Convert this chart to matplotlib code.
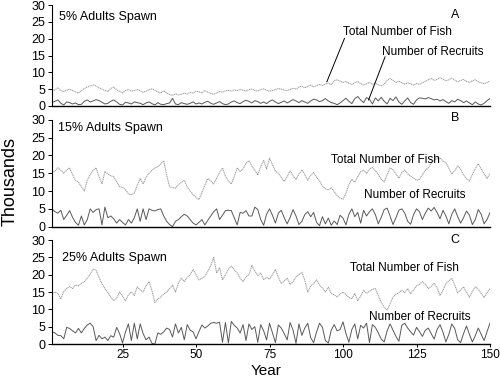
import numpy as np
import matplotlib
matplotlib.use("Agg")
import matplotlib.pyplot as plt

plt.rcParams['font.family'] = ['Liberation Sans', 'DejaVu Sans']

years = np.arange(1, 151)

# Panel A - 5% adults spawn (thousands)
total_a = [4.5, 4.8, 5.4, 4.6, 4.3, 4.7, 5.0, 4.6, 4.2, 3.8,
           4.6, 5.2, 5.6, 6.0, 6.3, 5.9, 5.4, 5.0, 4.6, 4.3,
           5.2, 5.6, 4.8, 4.3, 3.9, 4.6, 4.9, 4.4, 4.6, 4.9,
           4.5, 4.1, 4.4, 4.8, 5.1, 4.7, 4.2, 3.8, 4.5, 3.9,
           3.4, 3.2, 3.6, 3.3, 3.5, 3.8, 3.6, 4.0, 3.9, 4.4,
           4.2, 3.9, 4.6, 4.1, 3.7, 3.5, 3.9, 4.3, 4.1, 4.5,
           4.7, 4.4, 4.8, 4.6, 4.9, 4.7, 4.4, 4.9, 5.0, 4.6,
           4.4, 4.9, 5.1, 4.7, 4.4, 4.6, 4.9, 5.2, 5.0, 4.7,
           4.6, 4.9, 5.3, 5.0, 5.6, 5.9, 5.4, 5.8, 6.2, 5.7,
           6.0, 6.4, 6.1, 6.5, 6.8, 6.3, 7.5, 7.8, 7.4, 7.0,
           7.3, 6.8, 6.4, 6.9, 7.3, 6.7, 6.2, 6.6, 7.0, 6.4,
           6.8, 6.3, 6.0, 6.5, 7.6, 8.2, 7.6, 7.0, 7.4, 6.9,
           6.5, 6.9, 6.6, 6.2, 6.7, 6.4, 6.9, 7.3, 7.8, 8.2,
           7.6, 7.9, 8.4, 8.0, 7.5, 7.8, 8.3, 7.7, 7.2, 7.6,
           7.9, 7.3, 7.0, 7.5, 7.8, 7.2, 6.9, 6.6, 7.0, 7.4]
recruits_a = [1.0, 1.4, 1.8, 0.8, 0.3, 1.2, 1.0, 0.6, 0.9, 0.4,
              0.5, 1.4, 1.8, 1.2, 1.5, 1.9, 1.6, 1.1, 0.6, 0.8,
              1.4, 1.8, 1.2, 0.5, 0.3, 1.1, 0.9, 0.6, 1.2, 1.0,
              0.8, 0.4, 0.9, 1.2, 0.7, 0.3, 1.0, 0.5, 0.4, 0.7,
              0.9, 2.3, 0.6, 0.4, 1.0, 0.7, 0.5, 0.8, 1.2, 0.6,
              0.9, 0.6, 1.1, 1.4, 0.8, 0.5, 0.9, 1.3, 0.7, 0.4,
              0.6, 1.2, 1.5, 1.0, 0.7, 1.3, 1.7, 1.4, 0.9, 1.6,
              1.3, 0.8, 1.2, 0.7, 1.4, 1.8, 1.2, 0.7, 1.1, 1.5,
              0.9, 1.4, 1.9, 1.5, 1.0, 1.6, 1.2, 0.8, 1.5, 2.0,
              1.8, 1.3, 1.6, 2.2, 1.5, 1.0, 0.8, 0.4, 0.9, 1.6,
              2.3, 1.4, 0.7, 2.2, 2.8, 1.8, 1.0, 2.5, 2.0, 0.6,
              2.4, 1.5, 2.6, 1.4, 0.6, 2.3, 1.6, 2.7, 1.2, 0.5,
              1.5, 2.4, 1.0, 0.5, 1.8, 2.4, 2.3, 2.1, 2.5, 2.2,
              1.8, 2.0, 1.5, 1.9, 1.3, 0.8, 1.6, 1.2, 2.0, 1.6,
              1.0, 1.5, 0.9, 0.4, 1.2, 0.6, 0.3, 0.8, 1.6, 2.2]

# Panel B - 15% adults spawn
total_b = [15.0, 15.6, 16.5, 15.8, 15.0, 15.9, 16.5, 14.6, 13.0, 12.5,
           11.2, 10.0, 13.0, 14.6, 15.8, 16.5, 14.0, 12.0, 15.5, 14.8,
           14.3, 14.0, 12.6, 11.2, 11.0, 10.4, 9.2, 9.0, 9.4, 11.6,
           13.5, 12.0, 13.8, 15.0, 15.8, 16.5, 16.8, 17.6, 18.5, 14.5,
           11.2, 11.0, 10.8, 11.8, 12.4, 13.0, 11.2, 10.0, 9.0, 8.2,
           7.6, 9.5, 11.6, 13.5, 12.8, 12.0, 13.6, 15.2, 16.5, 14.2,
           12.8, 12.0, 14.0, 16.5, 15.5, 16.2, 17.8, 18.5, 17.0, 15.8,
           14.5, 16.8, 18.6, 16.2, 19.2, 17.4, 15.6, 15.0, 13.8, 12.7,
           14.1, 15.6, 14.3, 13.2, 14.8, 15.9, 14.6, 13.0, 14.4, 15.2,
           13.8, 12.9, 11.4, 10.6, 10.3, 11.0, 9.8, 8.7, 8.0, 7.7,
           9.4, 11.8, 13.3, 12.5, 14.0, 15.4, 15.9, 14.9, 16.2, 16.6,
           15.7, 14.6, 13.3, 12.5, 14.6, 16.5, 16.0, 14.8, 13.6, 15.2,
           15.9, 14.8, 14.2, 13.6, 13.0, 13.3, 14.6, 15.8, 16.5, 17.8,
           18.6, 19.1, 19.3, 18.4, 18.0, 16.4, 14.8, 15.7, 17.0, 16.2,
           14.5, 13.4, 12.8, 14.6, 16.3, 17.7, 16.2, 14.8, 13.5, 15.0]
recruits_b = [5.0, 4.2, 3.8, 4.6, 2.0, 3.2, 4.5, 2.6, 1.2, 0.4,
              3.0, 0.5, 2.0, 5.0, 4.0, 4.8, 5.0, 0.5, 5.5, 2.5,
              3.0, 2.2, 1.0, 2.0, 1.2, 0.5, 2.0, 1.0, 2.5, 5.0,
              1.5, 5.0, 2.0, 5.0, 4.6, 4.4, 4.8, 5.0, 3.0, 1.5,
              0.6, 0.0, 1.5, 2.0, 2.8, 3.5, 3.0, 2.0, 1.0, 0.5,
              1.2, 2.0, 0.5, 1.8, 3.0, 4.2, 5.0, 2.0, 3.2, 4.5,
              4.6, 4.5, 2.5, 0.5, 4.0, 3.8, 4.5, 3.0, 3.0, 5.5,
              4.8, 2.0, 0.4, 3.5, 5.0, 3.2, 1.0, 3.8, 4.6, 2.5,
              0.8, 2.6, 4.8, 3.0, 0.6, 1.5, 3.4, 4.2, 2.8, 4.0,
              1.2, 0.3, 2.8, 0.8, 2.4, 0.4, 1.6, 0.6, 3.2, 2.4,
              0.5, 3.5, 5.0, 2.8, 4.0, 1.0, 4.6, 3.0, 4.2, 5.0,
              3.4, 0.8, 2.6, 4.8, 5.2, 3.0, 0.6, 2.5, 4.6, 5.0,
              3.8, 1.5, 0.7, 3.4, 5.0, 4.2, 2.0, 3.8, 5.2, 4.4,
              5.4, 4.0, 2.2, 4.6, 3.0, 0.8, 3.5, 5.0, 2.8, 1.0,
              2.5, 4.4, 3.2, 0.6, 2.0, 4.8, 3.5, 0.8, 2.0, 4.0]

# Panel C - 25% adults spawn
total_c = [14.5, 15.0, 14.6, 13.0, 15.2, 16.0, 16.6, 16.0, 17.0, 16.8,
           17.5, 18.0, 19.0, 20.2, 21.6, 21.3, 19.2, 17.4, 16.0, 14.8,
           13.5, 12.5, 13.2, 15.0, 13.8, 12.5, 14.2, 15.0, 14.0, 16.5,
           15.6, 15.0, 16.8, 18.0, 15.4, 12.0, 13.0, 13.6, 14.4, 15.0,
           16.0, 17.0, 15.0, 17.6, 19.0, 18.0, 19.2, 20.0, 21.5, 20.0,
           18.5, 19.0, 19.5, 21.0, 22.6, 25.0, 20.5, 22.0, 18.5, 20.0,
           21.5, 22.5, 21.4, 20.5, 19.0, 18.0, 19.4, 20.0, 22.7, 21.0,
           19.8, 20.5, 18.6, 19.2, 18.7, 20.0, 21.5, 19.2, 17.5, 18.2,
           19.0, 17.2, 18.0, 19.4, 20.0, 20.7, 18.4, 15.0, 16.8, 17.4,
           18.5, 17.0, 16.2, 15.0, 16.4, 14.6, 14.2, 13.6, 14.4, 15.0,
           14.2, 13.5, 13.0, 14.6, 12.5, 13.8, 15.5, 14.6, 15.2, 15.8,
           16.0, 14.0, 12.0, 10.6, 9.8, 11.6, 13.5, 14.4, 14.8, 15.5,
           14.8, 16.0, 14.5, 15.6, 16.8, 17.2, 18.0, 17.2, 16.0, 16.6,
           17.5, 16.2, 14.0, 15.5, 17.4, 18.2, 19.0, 17.0, 14.8, 15.5,
           16.5, 15.0, 13.5, 15.2, 16.5, 15.8, 14.6, 13.4, 14.8, 16.0]
recruits_c = [3.5, 3.2, 2.5, 2.4, 1.5, 4.8, 4.5, 3.8, 3.2, 4.5,
              3.2, 4.5, 5.5, 6.0, 5.0, 1.0, 2.5, 1.5, 2.0, 1.0,
              2.4, 2.0, 4.8, 3.0, 0.3, 3.5, 5.8, 1.0, 6.0, 1.5,
              5.8, 3.0, 1.2, 2.0, 0.2, 0.0, 3.2, 2.8, 3.5, 4.6,
              4.2, 2.0, 5.8, 3.2, 4.8, 1.2, 5.6, 4.0, 3.5, 1.5,
              3.6, 5.5, 4.6, 5.2, 6.0, 6.2, 6.0, 6.3, 0.5, 6.2,
              0.3, 6.5, 5.4, 4.6, 3.2, 5.6, 1.0, 5.8, 4.2, 5.0,
              0.5, 5.6, 3.8, 1.2, 6.0, 3.2, 0.4, 5.5, 4.6, 3.0,
              1.2, 6.2, 4.0, 0.2, 5.8, 2.5, 4.6, 6.0, 1.8, 0.4,
              3.5, 6.0, 4.8, 1.0, 0.3, 4.0, 5.6, 3.8, 4.2, 6.4,
              3.0, 0.5, 4.2, 5.8, 1.5, 5.4, 4.6, 6.0, 0.4, 5.6,
              4.8, 3.2, 1.4, 0.6, 3.8, 5.8, 4.0, 2.2, 0.8, 5.4,
              6.0, 4.6, 3.5, 2.6, 4.8, 3.6, 2.2, 4.0, 4.6, 3.0,
              1.4, 4.2, 5.6, 3.4, 0.6, 2.8, 5.8, 4.5, 1.2, 0.4,
              3.0, 5.2, 2.8, 0.6, 2.4, 4.6, 2.8, 1.0, 3.6, 6.0]

fig = plt.figure(figsize=(5.0, 3.78), dpi=100)
left, width = 0.104, 0.876
ax_a = fig.add_axes([left, 0.7196, width, 0.267])
ax_b = fig.add_axes([left, 0.4003, width, 0.283])
ax_c = fig.add_axes([left, 0.0899, width, 0.2751])

panels = [
    (ax_a, total_a, recruits_a, "5% Adults Spawn", "A",
     (3.3, 26.4), (118.4, 22.0), (130.6, 16.0), 27.0),
    (ax_b, total_b, recruits_b, "15% Adults Spawn", "B",
     (2.9, 27.7), (114.3, 18.7), (124.5, 8.9), 30.6),
    (ax_c, total_c, recruits_c, "25% Adults Spawn", "C",
     (4.5, 24.7), (121.0, 21.9), (126.0, 7.9), 30.0),
]

for ax, tot, rec, title, letter, tpos, fpos, rpos, ly in panels:
    ax.plot(years, tot, color='0.62', lw=0.75, linestyle=(0, (1.2, 0.6)))
    ax.plot(years, rec, color='0.35', lw=0.7)
    ax.set_xlim(1, 150)
    ax.set_ylim(0, 30)
    ax.set_yticks(range(0, 31, 5))
    ax.spines['top'].set_visible(False)
    ax.spines['right'].set_visible(False)
    ax.spines['left'].set_linewidth(0.8)
    ax.spines['bottom'].set_linewidth(1.0)
    ax.tick_params(axis='y', labelsize=9, length=3, width=0.7, pad=2)
    ax.text(tpos[0], tpos[1], title, fontsize=9, va='center', ha='left')
    ax.text(138, ly, letter, fontsize=9, va='center', ha='center', clip_on=False)
    ax.text(fpos[0], fpos[1], "Total Number of Fish", fontsize=8.5,
            va='center', ha='center')
    ax.text(rpos[0], rpos[1], "Number of Recruits", fontsize=8.5,
            va='center', ha='center')

for ax in (ax_a, ax_b):
    ax.set_xticks([])

ax_c.set_xticks([25, 50, 75, 100, 125, 150])
ax_c.tick_params(axis='x', labelsize=8.5, length=2.5, width=0.7, pad=1)

# leader lines in panel A
ax_a.plot([100.5, 94.5], [20.1, 7.2], color='black', lw=0.7)
ax_a.plot([114.3, 108.7], [14.6, 1.8], color='black', lw=0.7)

fig.text(0.02, 0.52, "Thousands", rotation=90, fontsize=13,
         va='center', ha='center')
fig.text(0.532, 0.0, "Year", fontsize=11, va='bottom', ha='center')

fig.savefig("out.png", dpi=100)
